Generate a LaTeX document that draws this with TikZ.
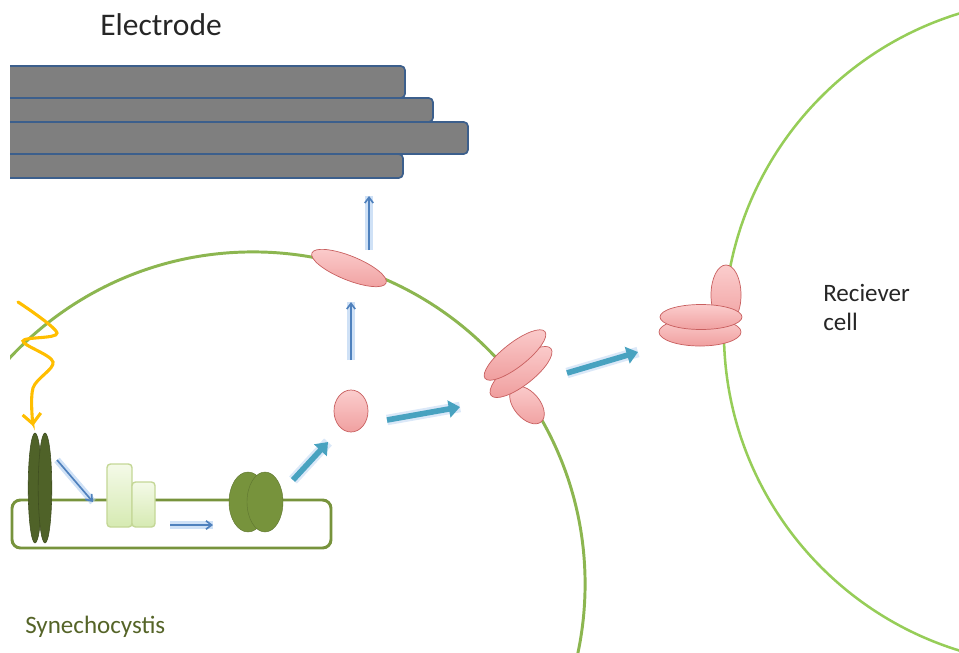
\documentclass[tikz,border=0pt]{standalone}
\usepackage{fontspec}
\setmainfont{Carlito}
\usepackage{tikz}
\usetikzlibrary{shapes.geometric,arrows.meta}

\definecolor{cellgreen}{RGB}{140,182,80}
\definecolor{recvgreen}{RGB}{150,205,88}
\definecolor{thylgreen}{RGB}{119,147,60}
\definecolor{psiigreen}{RGB}{79,98,40}
\definecolor{pinklight}{RGB}{251,205,205}
\definecolor{pinkdark}{RGB}{240,160,160}
\definecolor{pinkline}{RGB}{200,95,95}
\definecolor{flowblue}{RGB}{79,129,189}
\definecolor{glowblue}{RGB}{175,205,240}
\definecolor{fluxteal}{RGB}{72,162,192}
\definecolor{plategray}{RGB}{127,127,127}
\definecolor{plateline}{RGB}{60,95,140}
\definecolor{sunyellow}{RGB}{255,190,0}
\definecolor{cytlight}{RGB}{244,250,232}
\definecolor{cytdark}{RGB}{214,234,178}
\definecolor{cytline}{RGB}{196,215,150}
\definecolor{labelolive}{RGB}{85,100,40}

\begin{document}
\begin{tikzpicture}[x=0.025cm, y=-0.025cm,
	plate/.style={draw=plateline, line width=1.2pt, fill=plategray, rounded corners=3pt},
	protein/.style={ellipse, draw=pinkline, line width=0.5pt, top color=pinklight, bottom color=pinkdark, inner sep=0pt},
	psii/.style={ellipse, draw=psiigreen!80!black, fill=psiigreen, inner sep=0pt, minimum width=0.34cm, minimum height=2.75cm},
	psi/.style={ellipse, draw=thylgreen!80!black, line width=0.3pt, fill=thylgreen, inner sep=0pt, minimum width=0.95cm, minimum height=1.5cm},
	cyt/.style={rectangle, rounded corners=2.5pt, draw=cytline, line width=1pt, top color=cytlight, bottom color=cytdark, inner sep=0pt},
	flow/.style={draw=flowblue, line width=1.2pt, -{Straight Barb[length=4pt,width=6pt]},
		preaction={draw=glowblue, line width=5pt, opacity=0.6, -}},
	flux/.style={draw=fluxteal, line width=4pt, -{Triangle[length=8pt,width=12pt]},
		preaction={draw=glowblue, line width=7.5pt, opacity=0.45, -}},
	textlabel/.style={inner sep=0pt, font=\fontsize{17.8}{20.6}\selectfont}]
	\useasboundingbox (0,0) rectangle (959,652);
	\clip (10,0) rectangle (959,652);

	\node (electrodelabel) at (100,35) [anchor=base west, inner sep=0pt, font=\fontsize{22.4}{26}\selectfont, text=black!85] {Electrode};
	\draw[plate] (-20,154) rectangle (403,178);
	\draw[plate] (-20,122) rectangle (468,154);
	\draw[plate] (-20,98) rectangle (433,122);
	\draw[plate] (-20,66) rectangle (405,98);

	\draw[cellgreen, line width=2.1pt] (253,584) circle (8.3cm);
	\draw[recvgreen, line width=1.8pt] (1057,332) circle (8.325cm);

	\draw[thylgreen, line width=2.1pt, rounded corners=6pt] (12,500) rectangle (331,548);

	\node (psiia) at (35,488) [psii] {};
	\node (psiib) at (45,488) [psii] {};
	\node (cyttall) at (119.5,495.5) [cyt, minimum width=0.625cm, minimum height=1.575cm] {};
	\node (cytshort) at (143.5,504.5) [cyt, minimum width=0.575cm, minimum height=1.125cm] {};
	\node (psia) at (248,502) [psi] {};
	\node (psib) at (265,502) [psi, minimum width=0.9cm] {};

	\node (carrier) at (351,411) [protein, minimum width=0.85cm, minimum height=1.05cm] {};
	\node (outporter) at (349,268) [protein, rotate=-22, minimum width=2cm, minimum height=0.6cm] {};
	\node (exportbase) at (527,405) [protein, rotate=-50, minimum width=1.1cm, minimum height=0.65cm] {};
	\node (exportlow) at (521,372) [protein, rotate=38, minimum width=1.9cm, minimum height=0.65cm] {};
	\node (exportup) at (515,355) [protein, rotate=38, minimum width=1.9cm, minimum height=0.6cm] {};
	\node (importstem) at (726,295) [protein, minimum width=0.75cm, minimum height=1.5cm] {};
	\node (importlow) at (700,332) [protein, minimum width=2.05cm, minimum height=0.7cm] {};
	\node (importup) at (701,317) [protein, minimum width=2.05cm, minimum height=0.625cm] {};

	\coordinate (lightin) at (18,302);
	\coordinate (lighthit) at (33,426);
	\draw[sunyellow, line width=2.2pt, line cap=round, -{Straight Barb[length=7pt,width=13pt]}]
		plot[smooth, tension=0.55] coordinates {(lightin) (57,333) (23,341) (53,362) (33,388) (lighthit)};

	\coordinate (fa) at (57,460);   \coordinate (fb) at (93,502);
	\coordinate (fc) at (170,525);  \coordinate (fd) at (213,525);
	\coordinate (fe) at (351,360);  \coordinate (ff) at (351,302);
	\coordinate (fg) at (369,250);  \coordinate (fh) at (369,196);
	\draw[flow] (fa) -- (fb);
	\draw[flow] (fc) -- (fd);
	\draw[flow] (fe) -- (ff);
	\draw[flow] (fg) -- (fh);

	\coordinate (xa) at (293,480);  \coordinate (xb) at (328,442);
	\coordinate (xc) at (387,420);  \coordinate (xd) at (460,407);
	\coordinate (xe) at (567,373);  \coordinate (xf) at (638,352);
	\draw[flux] (xa) -- (xb);
	\draw[flux] (xc) -- (xd);
	\draw[flux] (xe) -- (xf);

	\node (cellname) at (25,633) [textlabel, anchor=base west, text=labelolive] {Synechocystis};
	\node (recvname) at (823,330) [textlabel, anchor=base west, align=left, text=black!85] {Reciever\\cell};
\end{tikzpicture}
\end{document}
